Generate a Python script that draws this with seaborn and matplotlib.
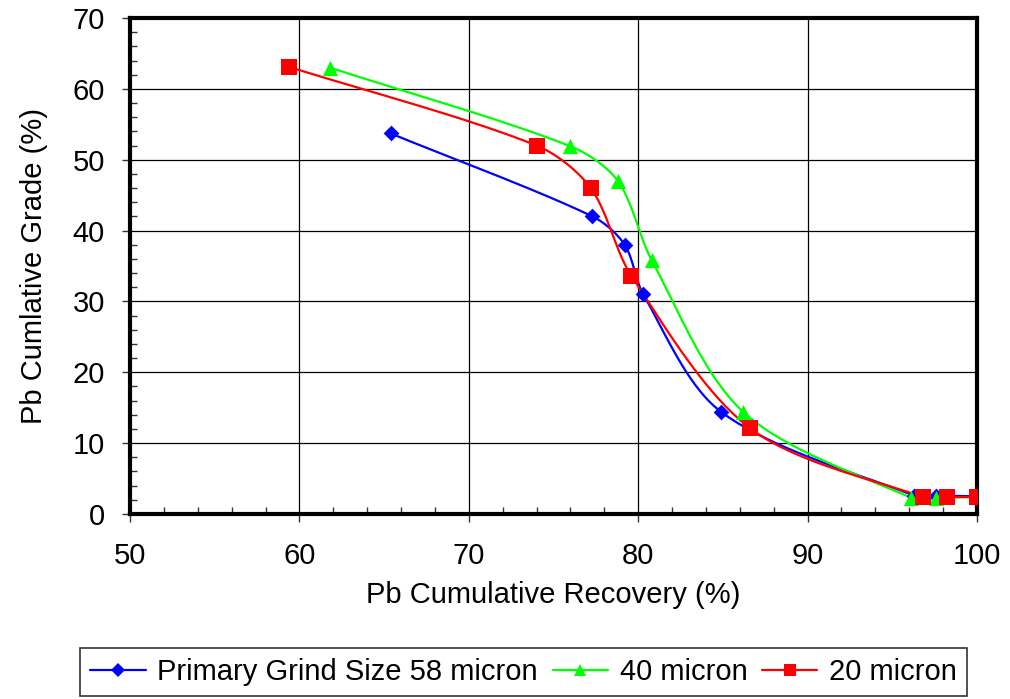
import numpy as np
import pandas as pd
import matplotlib
matplotlib.use("Agg")
import matplotlib.pyplot as plt
import seaborn as sns
from matplotlib.ticker import MultipleLocator
from matplotlib.lines import Line2D

# Data
rec_58 = [65.4, 77.3, 79.2, 80.3, 84.9, 96.3, 97.6, 100.0]
grade_58 = [53.7, 42.0, 38.0, 31.0, 14.4, 2.6, 2.6, 2.5]

rec_40 = [61.8, 76.0, 78.8, 80.8, 86.2, 96.1, 97.6, 100.0]
grade_40 = [63.0, 51.9, 47.0, 35.8, 14.4, 2.3, 2.3, 2.4]

rec_20 = [59.4, 74.0, 77.2, 79.6, 86.6, 96.8, 98.2, 100.0]
grade_20 = [63.1, 52.0, 46.0, 33.6, 12.1, 2.4, 2.4, 2.4]

labels = ["Primary Grind Size 58 micron", "40 micron", "20 micron"]
colors = ["#0000FF", "#00FF00", "#FF0000"]
markers = ["D", "^", "s"]
msizes = [8, 11, 11]

sns.set_theme(style="white")
plt.rcParams['font.family'] = ['Liberation Sans', 'DejaVu Sans']
plt.rcParams['text.color'] = 'black'
plt.rcParams['axes.labelcolor'] = 'black'
plt.rcParams['xtick.color'] = 'black'
plt.rcParams['ytick.color'] = 'black'

FS = 21

fig = plt.figure(figsize=(10.10, 6.99), dpi=100)
ax = fig.add_axes([130/1010, 1 - 514/699, (977-130)/1010, (514-18)/699])
ax.set_xlim(50, 100)
ax.set_ylim(0, 70)


def smooth(ax, xs, ys, n=40, k=0.3):
    # Smoothed line (Bezier with tangents from neighbours) computed in display space
    pts = ax.transData.transform(np.column_stack([xs, ys]))
    m = len(pts)
    tang = []
    for i in range(m):
        a = pts[i - 1] if i > 0 else pts[i]
        b = pts[i + 1] if i + 1 < m else pts[i]
        d = b - a
        nrm = np.hypot(*d)
        tang.append(d / nrm if nrm > 0 else d)
    out = []
    for i in range(m - 1):
        p1, p2 = pts[i], pts[i + 1]
        L = np.hypot(*(p2 - p1))
        c1 = p1 + tang[i] * L * k
        c2 = p2 - tang[i + 1] * L * k
        t = np.linspace(0, 1, n)[:, None]
        seg = ((1 - t) ** 3) * p1 + 3 * ((1 - t) ** 2) * t * c1 + 3 * (1 - t) * t ** 2 * c2 + t ** 3 * p2
        out.append(seg if i == 0 else seg[1:])
    out = np.vstack(out)
    d = ax.transData.inverted().transform(out)
    return d[:, 0], d[:, 1]


series = [(rec_58, grade_58), (rec_40, grade_40), (rec_20, grade_20)]
for (xs, ys), c in zip(series, colors):
    sx, sy = smooth(ax, xs, ys)
    sns.lineplot(x=sx, y=sy, ax=ax, color=c, lw=1.6, sort=False, estimator=None, legend=False)
for (xs, ys), c, mk, ms in zip(series, colors, markers, msizes):
    df = pd.DataFrame({"x": xs, "y": ys})
    sns.scatterplot(data=df, x="x", y="y", ax=ax, color=c, marker=mk, s=ms**2,
                    edgecolor=c, linewidth=0, legend=False, zorder=5)

ax.set_xlim(50, 100)
ax.set_ylim(0, 70)
ax.xaxis.set_major_locator(MultipleLocator(10))
ax.yaxis.set_major_locator(MultipleLocator(10))
ax.xaxis.set_minor_locator(MultipleLocator(2))
ax.yaxis.set_minor_locator(MultipleLocator(2))
ax.grid(True, which="major", color="black", lw=0.9)
ax.set_axisbelow(True)
for s in ax.spines.values():
    s.set_visible(True)
    s.set_color("black")
    s.set_linewidth(3)
ax.tick_params(which="major", direction="out", length=6, width=1, color="#333333",
               labelsize=FS, bottom=True, left=True)
ax.tick_params(axis="x", which="major", pad=14)
ax.tick_params(axis="y", which="major", pad=12)
ax.tick_params(which="minor", direction="in", length=5, width=1, color="#333333",
               bottom=True, left=True)
ax.set_xlabel("Pb Cumulative Recovery (%)", fontsize=FS, labelpad=8)
ax.set_ylabel("Pb Cumlative Grade (%)", fontsize=FS, labelpad=18)

handles = [Line2D([0], [0], color=c, lw=1.6, marker=mk, markersize=ms * 0.85,
                  markeredgewidth=0) for c, mk, ms in zip(colors, markers, msizes)]
leg = fig.legend(handles, labels, loc="upper left", bbox_to_anchor=(80/1010, 1 - 648/699),
                 ncol=3, fontsize=FS, frameon=True, fancybox=False, edgecolor="black",
                 handlelength=1.9, handletextpad=0.4, columnspacing=0.5,
                 borderpad=0.35, borderaxespad=0)
leg.get_frame().set_linewidth(1.2)

fig.savefig("out.png", dpi=100, facecolor="white")
